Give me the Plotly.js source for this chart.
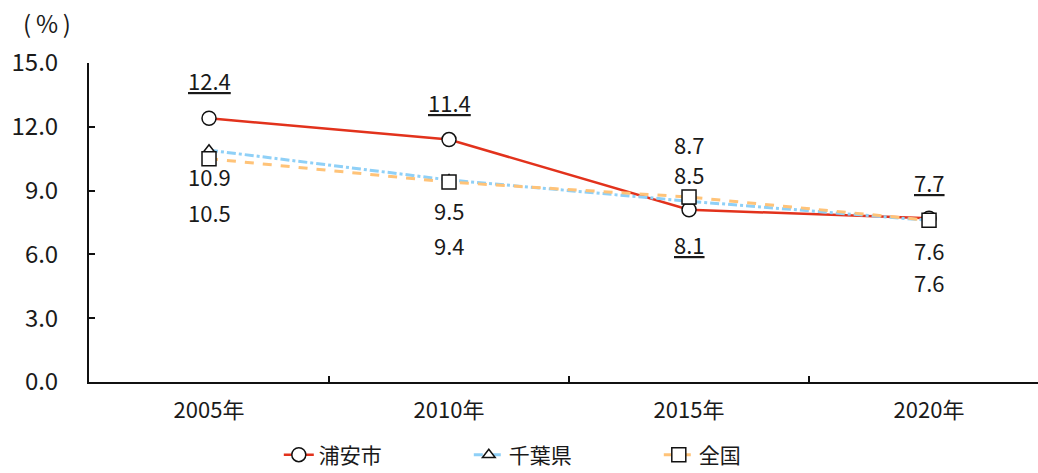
<!DOCTYPE html>
<html>
<head>
<meta charset="utf-8">
<script src="https://cdn.plot.ly/plotly-3.0.1.min.js"></script>
<style>
  html, body { margin: 0; padding: 0; background: #fff; }
  #plot { width: 1038px; height: 473px; }
</style>
</head>
<body>
<div id="plot"></div>
<script>
// data
var years = ['2005年', '2010年', '2015年', '2020年'];
var urayasu = [12.4, 11.4, 8.1, 7.7];
var chiba = [10.9, 9.5, 8.5, 7.6];
var zenkoku = [10.5, 9.4, 8.7, 7.6];

// label offsets (px, + is up)
var urayasuShift = [38, 38, -34, 36];
var chibaShift = [-26, -30, 27, -30];
var zenkokuShift = [-53, -63, 53, -62];

var FONT = '"Noto Sans CJK JP", "Noto Sans", sans-serif';

var trace1 = {
  x: years, y: urayasu, name: '浦安市',
  type: 'scatter', mode: 'lines+markers',
  line: {color: '#E2321C', width: 2.5},
  marker: {symbol: 'circle', size: 14, color: '#fff', line: {color: '#111', width: 1.5}}
};
var trace2 = {
  x: years, y: chiba, name: '千葉県',
  type: 'scatter', mode: 'lines+markers',
  line: {color: '#8FD0F7', width: 3, dash: 'dashdot'},
  marker: {symbol: 'triangle-up', size: 11, color: '#fff', line: {color: '#111', width: 1.5}}
};
var trace3 = {
  x: years, y: zenkoku, name: '全国',
  type: 'scatter', mode: 'lines+markers',
  line: {color: '#FFC378', width: 3, dash: 'dash'},
  marker: {symbol: 'square', size: 14, color: '#fff', line: {color: '#111', width: 1.5}}
};

// value labels
function labels(vals, shifts, underline) {
  return vals.map(function (v, i) {
    return {
      x: years[i], y: v, xref: 'x', yref: 'y',
      text: v.toFixed(1), showarrow: false,
      yshift: shifts[i],
      font: {family: FONT, size: 22, color: '#1a1a1a', lineposition: underline ? 'under' : 'none'}
    };
  });
}

var annotations = []
  .concat(labels(urayasu, urayasuShift, true))
  .concat(labels(chiba, chibaShift, false))
  .concat(labels(zenkoku, zenkokuShift, false));

annotations.push({
  xref: 'paper', yref: 'paper', x: 0, y: 1,
  xshift: -42, yshift: 41, xanchor: 'center', yanchor: 'middle',
  text: '(\u2009%\u2009)', showarrow: false,
  font: {family: FONT, size: 24, color: '#1a1a1a'}
});

var layout = {
  width: 1038, height: 473,
  margin: {l: 89, r: 0, t: 63, b: 91},
  paper_bgcolor: '#fff', plot_bgcolor: '#fff',
  font: {family: FONT, color: '#1a1a1a'},
  showlegend: true,
  hovermode: false,
  xaxis: {
    type: 'category',
    range: [-0.5, 3.454],
    showline: true, linecolor: '#111', linewidth: 2,
    ticks: 'inside', tickson: 'boundaries', ticklen: 6, tickwidth: 2, tickcolor: '#111',
    showgrid: false, zeroline: false,
    tickfont: {family: FONT, size: 22, color: '#1a1a1a'},
    ticklabelstandoff: 8
  },
  yaxis: {
    range: [0, 15], dtick: 3, tickformat: '.1f',
    showline: true, linecolor: '#111', linewidth: 2,
    ticks: 'inside', ticklen: 6, tickwidth: 2, tickcolor: '#111',
    showgrid: false, zeroline: false,
    tickfont: {family: FONT, size: 24, color: '#1a1a1a'},
    ticklabelstandoff: 24
  },
  legend: {
    orientation: 'h',
    xref: 'paper', x: 0.2, xanchor: 'left',
    yref: 'container', y: 0.038, yanchor: 'middle',
    entrywidth: 145,
    font: {family: FONT, size: 21, color: '#1a1a1a'},
    bgcolor: 'rgba(0,0,0,0)'
  },
  annotations: annotations
};

Plotly.newPlot('plot', [trace1, trace2, trace3], layout, {displayModeBar: false, staticPlot: true});
</script>
</body>
</html>
